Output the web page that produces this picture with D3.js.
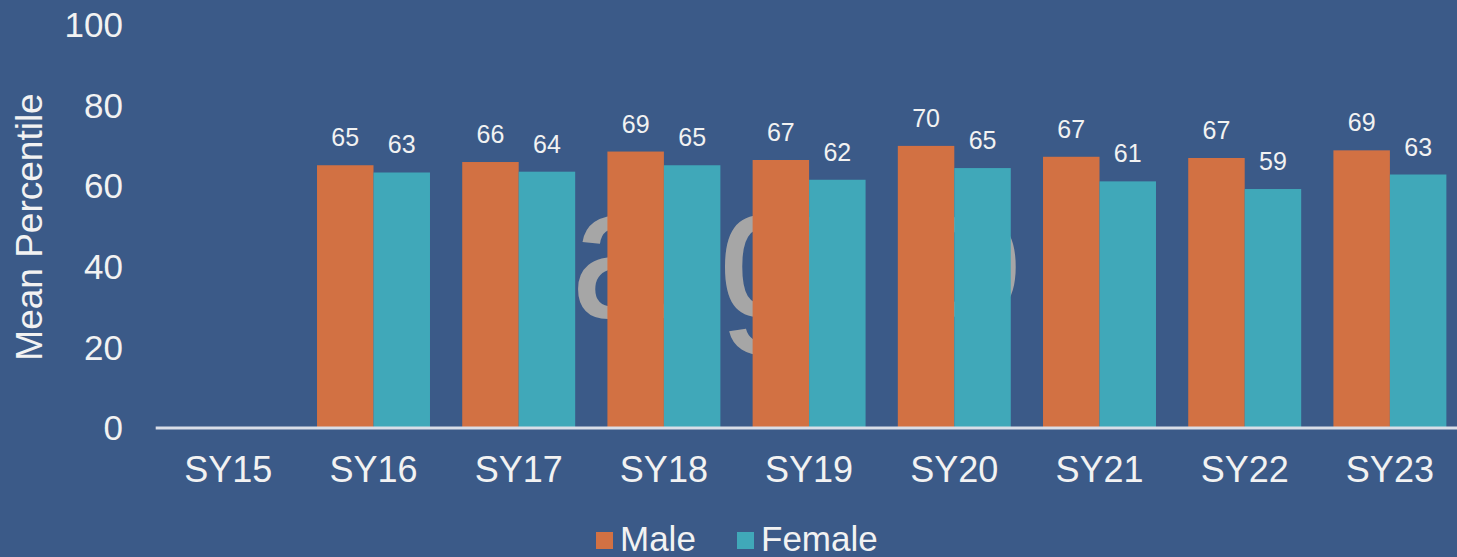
<!DOCTYPE html>
<html>
<head>
<meta charset="utf-8">
<script src="https://cdn.jsdelivr.net/npm/d3@7"></script>
<style>
  html, body { margin: 0; padding: 0; background: #3B5A88; }
  svg { display: block; }
  text { font-family: "Liberation Sans", Arial, sans-serif; }
</style>
</head>
<body>
<script>
const categories = ["SY15", "SY16", "SY17", "SY18", "SY19", "SY20", "SY21", "SY22", "SY23"];
const maleValues = [null, 65.2, 66.0, 68.6, 66.5, 70.0, 67.3, 67.0, 68.9];
const femaleValues = [null, 63.4, 63.6, 65.2, 61.6, 64.5, 61.2, 59.3, 62.9];
const seriesNames = ["Male", "Female"];
const yTicks = [0, 20, 40, 60, 80, 100];
const watermarkLetters = ["a", "g", "o"];

const W = 1457, H = 557;
const colors = { Male: "#D27143", Female: "#40A8B9" };
const bg = "#3B5A88";
const textColor = "#F2F2F2";

const svg = d3.select("body").append("svg")
  .attr("width", W).attr("height", H);
svg.append("rect").attr("width", W).attr("height", H).attr("fill", bg);

const x = d3.scaleBand().domain(categories).range([155.7, 1462.5])
  .paddingInner(0.222).paddingOuter(0.111);
const xs = d3.scaleBand().domain(seriesNames).range([0, x.bandwidth()]);
const y = d3.scaleLinear().domain([0, 100]).range([428, 25]);

// watermark (behind bars)
const wmX = [570, 717, 918];
const wm = svg.append("text")
  .attr("y", 317)
  .attr("font-size", 190)
  .attr("fill", "#A6A6A6");
wm.selectAll("tspan").data(watermarkLetters).join("tspan")
  .attr("x", (d, i) => wmX[i])
  .text(d => d);

// y tick labels
svg.append("g").selectAll("text").data(yTicks).join("text")
  .attr("x", 123)
  .attr("y", d => y(d))
  .attr("dy", "0.35em")
  .attr("text-anchor", "end")
  .attr("font-size", 35)
  .attr("fill", textColor)
  .text(d => d);

// y axis title
svg.append("text")
  .attr("transform", "translate(42,227) rotate(-90)")
  .attr("text-anchor", "middle")
  .attr("font-size", 37)
  .attr("fill", textColor)
  .text("Mean Percentile");

// bars
const rows = categories.map((c, i) => ({ cat: c, vals: [
  { s: "Male", v: maleValues[i] }, { s: "Female", v: femaleValues[i] }
].filter(d => d.v != null) }));

const groups = svg.append("g").selectAll("g").data(rows).join("g")
  .attr("transform", d => `translate(${x(d.cat)},0)`);

groups.selectAll("rect").data(d => d.vals).join("rect")
  .attr("x", d => xs(d.s))
  .attr("width", xs.bandwidth())
  .attr("y", d => y(d.v))
  .attr("height", d => y(0) - y(d.v))
  .attr("fill", d => colors[d.s]);

groups.selectAll("text").data(d => d.vals).join("text")
  .attr("x", d => xs(d.s) + xs.bandwidth() / 2)
  .attr("y", d => y(d.v) - 19)
  .attr("text-anchor", "middle")
  .attr("font-size", 25)
  .attr("fill", textColor)
  .text(d => Math.round(d.v));

// x axis line
svg.append("line")
  .attr("x1", x.range()[0]).attr("x2", W)
  .attr("y1", y(0)).attr("y2", y(0))
  .attr("stroke", "#D9DEE8").attr("stroke-width", 3);

// x category labels
svg.append("g").selectAll("text").data(categories).join("text")
  .attr("x", d => x(d) + x.bandwidth() / 2)
  .attr("y", 482)
  .attr("text-anchor", "middle")
  .attr("font-size", 36)
  .attr("fill", textColor)
  .text(d => d);

// legend
const legendItems = [
  { s: "Male", sx: 596, tx: 620 },
  { s: "Female", sx: 737, tx: 761 }
];
const lg = svg.append("g");
lg.selectAll("rect").data(legendItems).join("rect")
  .attr("x", d => d.sx).attr("y", 532).attr("width", 17).attr("height", 17)
  .attr("fill", d => colors[d.s]);
lg.selectAll("text").data(legendItems).join("text")
  .attr("x", d => d.tx).attr("y", 551)
  .attr("font-size", 35)
  .attr("fill", textColor)
  .text(d => d.s);
</script>
</body>
</html>
